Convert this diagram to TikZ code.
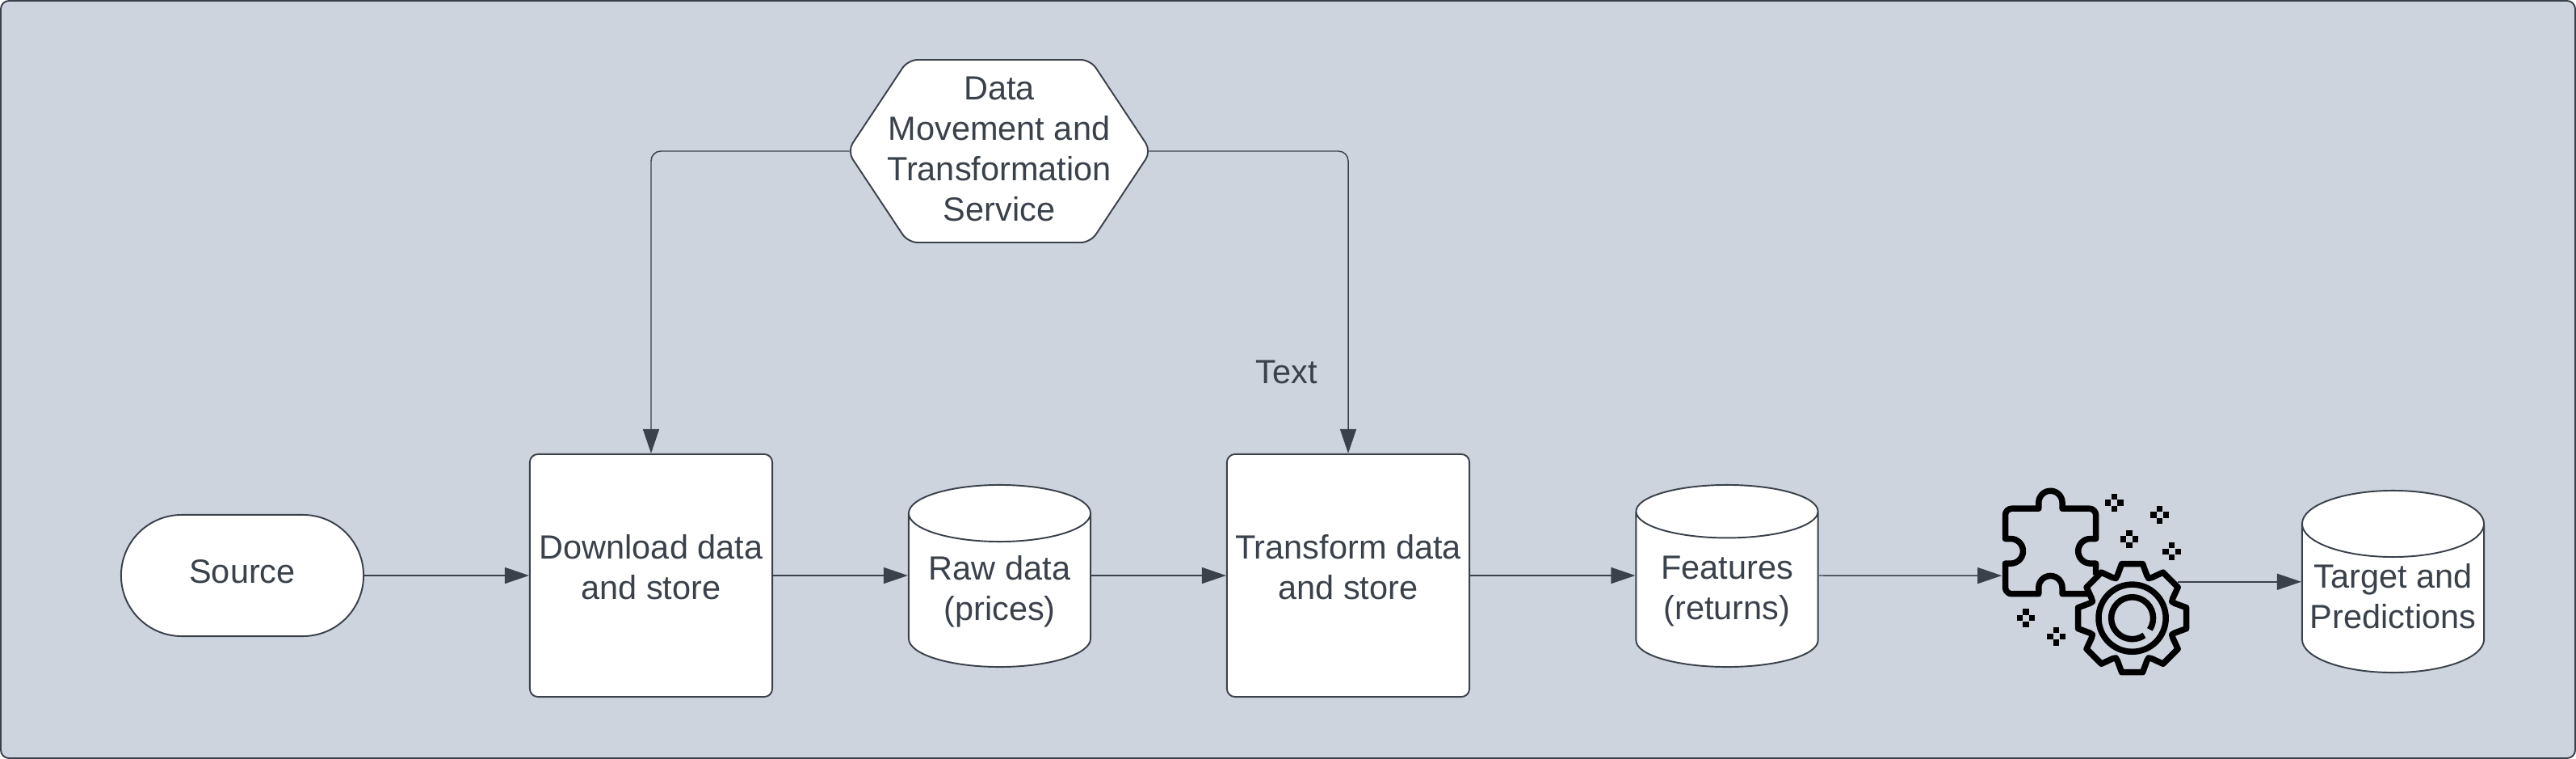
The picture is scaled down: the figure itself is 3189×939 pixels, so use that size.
\documentclass[tikz,border=0pt]{standalone}
\usepackage{fontspec}
\setmainfont{Liberation Sans}
\usetikzlibrary{arrows.meta, shapes.geometric, shapes.misc}
\definecolor{slateline}{HTML}{3A414A}
\definecolor{panelfill}{HTML}{CDD4DD}
\newcommand{\liftlines}[2]{\raisebox{#1}[0pt][0pt]{\begin{tabular}{@{}c@{}}#2\end{tabular}}}
\tikzset{
  boxtext/.style={text=slateline, align=center, font=\fontsize{11.8}{14.2}\selectfont},
  stepbox/.style={boxtext, draw=slateline, fill=white, line width=0.55pt, rounded corners=0.1cm, minimum width=3cm, minimum height=3cm, inner sep=0pt},
  pillbox/.style={boxtext, draw=slateline, fill=white, line width=0.55pt, rounded rectangle, minimum width=3cm, minimum height=1.5cm, inner sep=0pt},
  hexline/.style={draw=slateline, fill=white, line width=0.55pt, rounded corners=0.12cm},
  storebox/.style={boxtext, draw=slateline, fill=white, line width=0.55pt, cylinder, shape border rotate=90, aspect=0.4, minimum width=2.25cm, minimum height=2.25cm, inner sep=0pt, anchor=shape center},
  flow/.style={draw=slateline, line width=0.42pt, -{Triangle[length=0.3cm, width=0.2cm]}, rounded corners=0.12cm},
  iconline/.style={draw=black, line width=0.075cm, line join=round}
}
\begin{document}
\begin{tikzpicture}[x=0.01cm, y=-0.01cm]
  \useasboundingbox (0,0) rectangle (3189,939);
  \draw[draw=slateline, fill=panelfill, line width=0.55pt, rounded corners=0.1cm] (1,1) rectangle (3188,938);

  % Hexagon outline, its text node goes on top
  \draw[hexline] (1049,187) -- (1124,74) -- (1350,74) -- (1425,187) -- (1350,300) -- (1124,300) -- cycle;

  % Nodes of the flow
  \node[pillbox] (source) at (300,712) {\liftlines{-2.8pt}{Source}};
  \node[stepbox] (download) at (806,712) {\liftlines{-1.5pt}{Download data\\and store}};
  \node[storebox] (raw) at (1237.5,712.5) {\liftlines{-3.66pt}{Raw data\\(prices)}};
  \node[stepbox] (transform) at (1669,712) {\liftlines{-1.5pt}{Transform data\\and store}};
  \node[storebox] (features) at (2138,712.5) {\liftlines{-3.66pt}{Features\\(returns)}};
  \node[storebox] (target) at (2962.5,719.5) {\liftlines{-3.66pt}{Target and\\Predictions}};
  \node[boxtext, minimum width=3.69cm, minimum height=2.26cm, inner sep=0pt] (service) at (1237,187) {\liftlines{-3.5pt}{Data\\Movement and\\Transformation\\Service}};
  \node[boxtext] (note) at (1593,460) {Text};

  % Icon, in its own coordinates
  \begin{scope}[shift={(2380,570)}, x=0.00333cm, y=-0.00333cm]
    % puzzle piece
    \draw[iconline] (645,425) -- (645,382) -- (625,382) arc[start angle=90, end angle=270, radius=46]
      -- (645,290) [rounded corners=0.08cm] -- (645,178) [sharp corners] -- (520,178) -- (520,156)
      arc[start angle=360, end angle=180, radius=44] -- (432,178) [rounded corners=0.08cm] -- (308,178)
      [sharp corners] -- (308,290) -- (328,290) arc[start angle=-90, end angle=90, radius=46]
      -- (308,382) [rounded corners=0.08cm] -- (308,495) [sharp corners] -- (432,495) -- (432,472)
      arc[start angle=180, end angle=360, radius=44] -- (520,495) -- (620,495);
    % gear
    \begin{scope}[shift={(780,585)}]
      \draw[iconline] (-22.5:160) \foreach \a in {0,45,...,315} {
        -- ({\a-19}:168) -- ({\a-11}:205) -- ({\a+11}:205) -- ({\a+19}:168) -- ({\a+22.5}:160)
      } -- cycle;
      \draw[iconline] (0,0) circle[radius=125];
      \draw[iconline] (33:78) arc[start angle=33, end angle=-305, radius=78];
    \end{scope}
    % sparkles
    \foreach \sx/\sy in {713/156, 882/201, 769/291, 927/337, 385/585, 498/653} {
      \foreach \dx/\dy in {-23/0, 23/0, 0/-23, 0/23} {
        \fill[black] (\sx+\dx-11,\sy+\dy-11) rectangle (\sx+\dx+11,\sy+\dy+11);
      }
    }
    \coordinate (puzzlein) at (295,427);
    \coordinate (gearout) at (950,450);
  \end{scope}

  % Connectors
  \draw[flow] (source.east) -- (download.west);
  \draw[flow] (download.east) -- (download.east -| raw.west);
  \draw[flow] (transform.west -| raw.east) -- (transform.west);
  \draw[flow] (transform.east) -- (transform.east -| features.west);
  \draw[flow] (transform.east -| features.east) -- (puzzlein);
  \draw[flow] (gearout) -- (gearout -| target.west);
  \draw[flow] (service.west) -| (download.north);
  \draw[flow] (service.east) -| (transform.north);
\end{tikzpicture}
\end{document}
